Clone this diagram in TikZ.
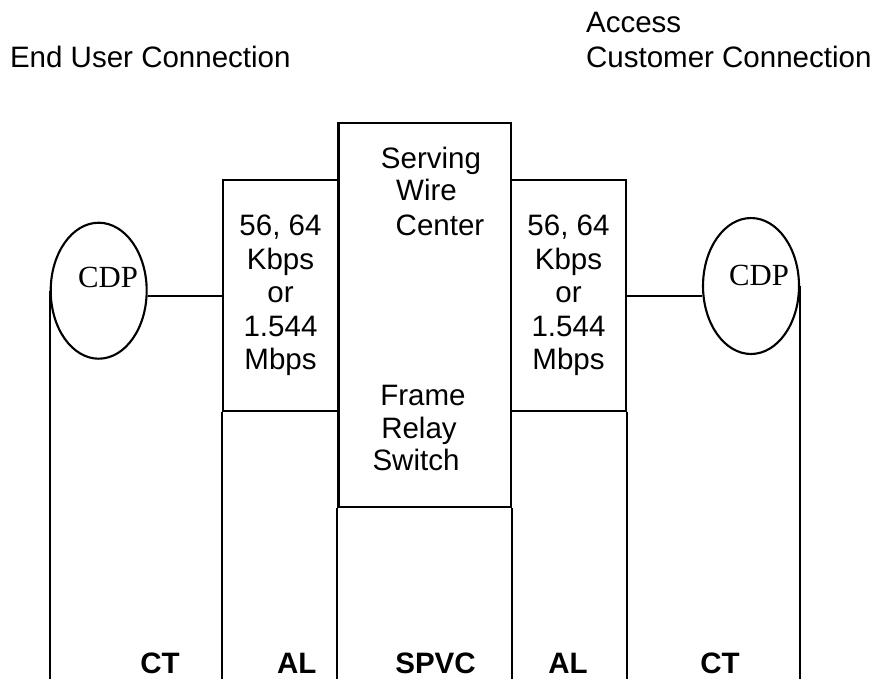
\documentclass[tikz,border=0pt]{standalone}
\usepackage{fontspec}
\setmainfont{Liberation Sans}
\newfontfamily\cdpfont{Liberation Serif}
\usetikzlibrary{positioning, shapes.geometric}

\tikzset{
    every node/.style={font=\fontsize{16.8}{19.1}\selectfont},
    box/.style={draw, rectangle, inner sep=0pt, align=center},
    cdp/.style={draw, ellipse, inner sep=0pt, minimum width=1.92cm, minimum height=2.72cm},
    cdplabel/.style={inner sep=0pt, font=\fontsize{17.5}{19.1}\selectfont\cdpfont},
    lbl/.style={inner sep=0pt, anchor=base},
    tag/.style={lbl, font=\fontsize{16.8}{19.1}\selectfont\bfseries},
}

\begin{document}
\begin{tikzpicture}[x=0.02cm, y=-0.02cm, line width=1.2pt]
    \useasboundingbox (0,0) rectangle (874,694);
    \coordinate (bottom) at (0,679);
    \coordinate (wire) at (0,296);

    % headings
    \node[lbl, anchor=base west] (endUser) at (9,67) {End User Connection};
    \node[lbl, anchor=base west] (access) at (585,32) {Access};
    \node[lbl, anchor=base west] (customer) at (585,67) {Customer Connection};

    % boxes
    \node[box, minimum width=3.45cm, minimum height=7.68cm] (spvc) at (424.7,314.7) {};
    \node[box, minimum width=2.3cm, minimum height=4.61cm] (alL) at (280.5,295.4) {56, 64\\Kbps\\or\\1.544\\Mbps};
    \node[box, minimum width=2.3cm, minimum height=4.61cm] (alR) at (568.5,295.4) {56, 64\\Kbps\\or\\1.544\\Mbps};

    \node[lbl] (serving) at (431,168) {Serving};
    \node[lbl] (wireTxt) at (426.5,200) {Wire};
    \node[lbl] (center) at (440,235) {Center};
    \node[lbl] (frame) at (423,405) {Frame};
    \node[lbl] (relay) at (419,438) {Relay};
    \node[lbl] (switch) at (416,470) {Switch};

    % CDPs
    \node[cdp] (cdpL) at (98.7,290.7) {};
    \node[cdplabel] (cdpLtxt) at (108,277) {CDP};
    \node[cdp] (cdpR) at (751,286) {};
    \node[cdplabel] (cdpRtxt) at (759,275) {CDP};

    \draw (alL.west |- wire) -- (cdpL.east |- wire);
    \draw (alR.east |- wire) -- (cdpR.west |- wire);

    % columns down to the bottom
    \draw (cdpL.west) -- (cdpL.west |- bottom);
    \draw (alL.south west) -- (alL.south west |- bottom);
    \draw (spvc.south west) -- (spvc.south west |- bottom);
    \draw (spvc.south east) -- (spvc.south east |- bottom);
    \draw (alR.south east) -- (alR.south east |- bottom);
    \draw (cdpR.east) -- (cdpR.east |- bottom);

    % bottom tags
    \node[tag] (ctL) at (160,673) {CT};
    \node[tag] (alLtag) at (296.7,673) {AL};
    \node[tag] (spvcTag) at (435.5,673) {SPVC};
    \node[tag] (alRtag) at (568,673) {AL};
    \node[tag] (ctR) at (720,673) {CT};
\end{tikzpicture}
\end{document}
